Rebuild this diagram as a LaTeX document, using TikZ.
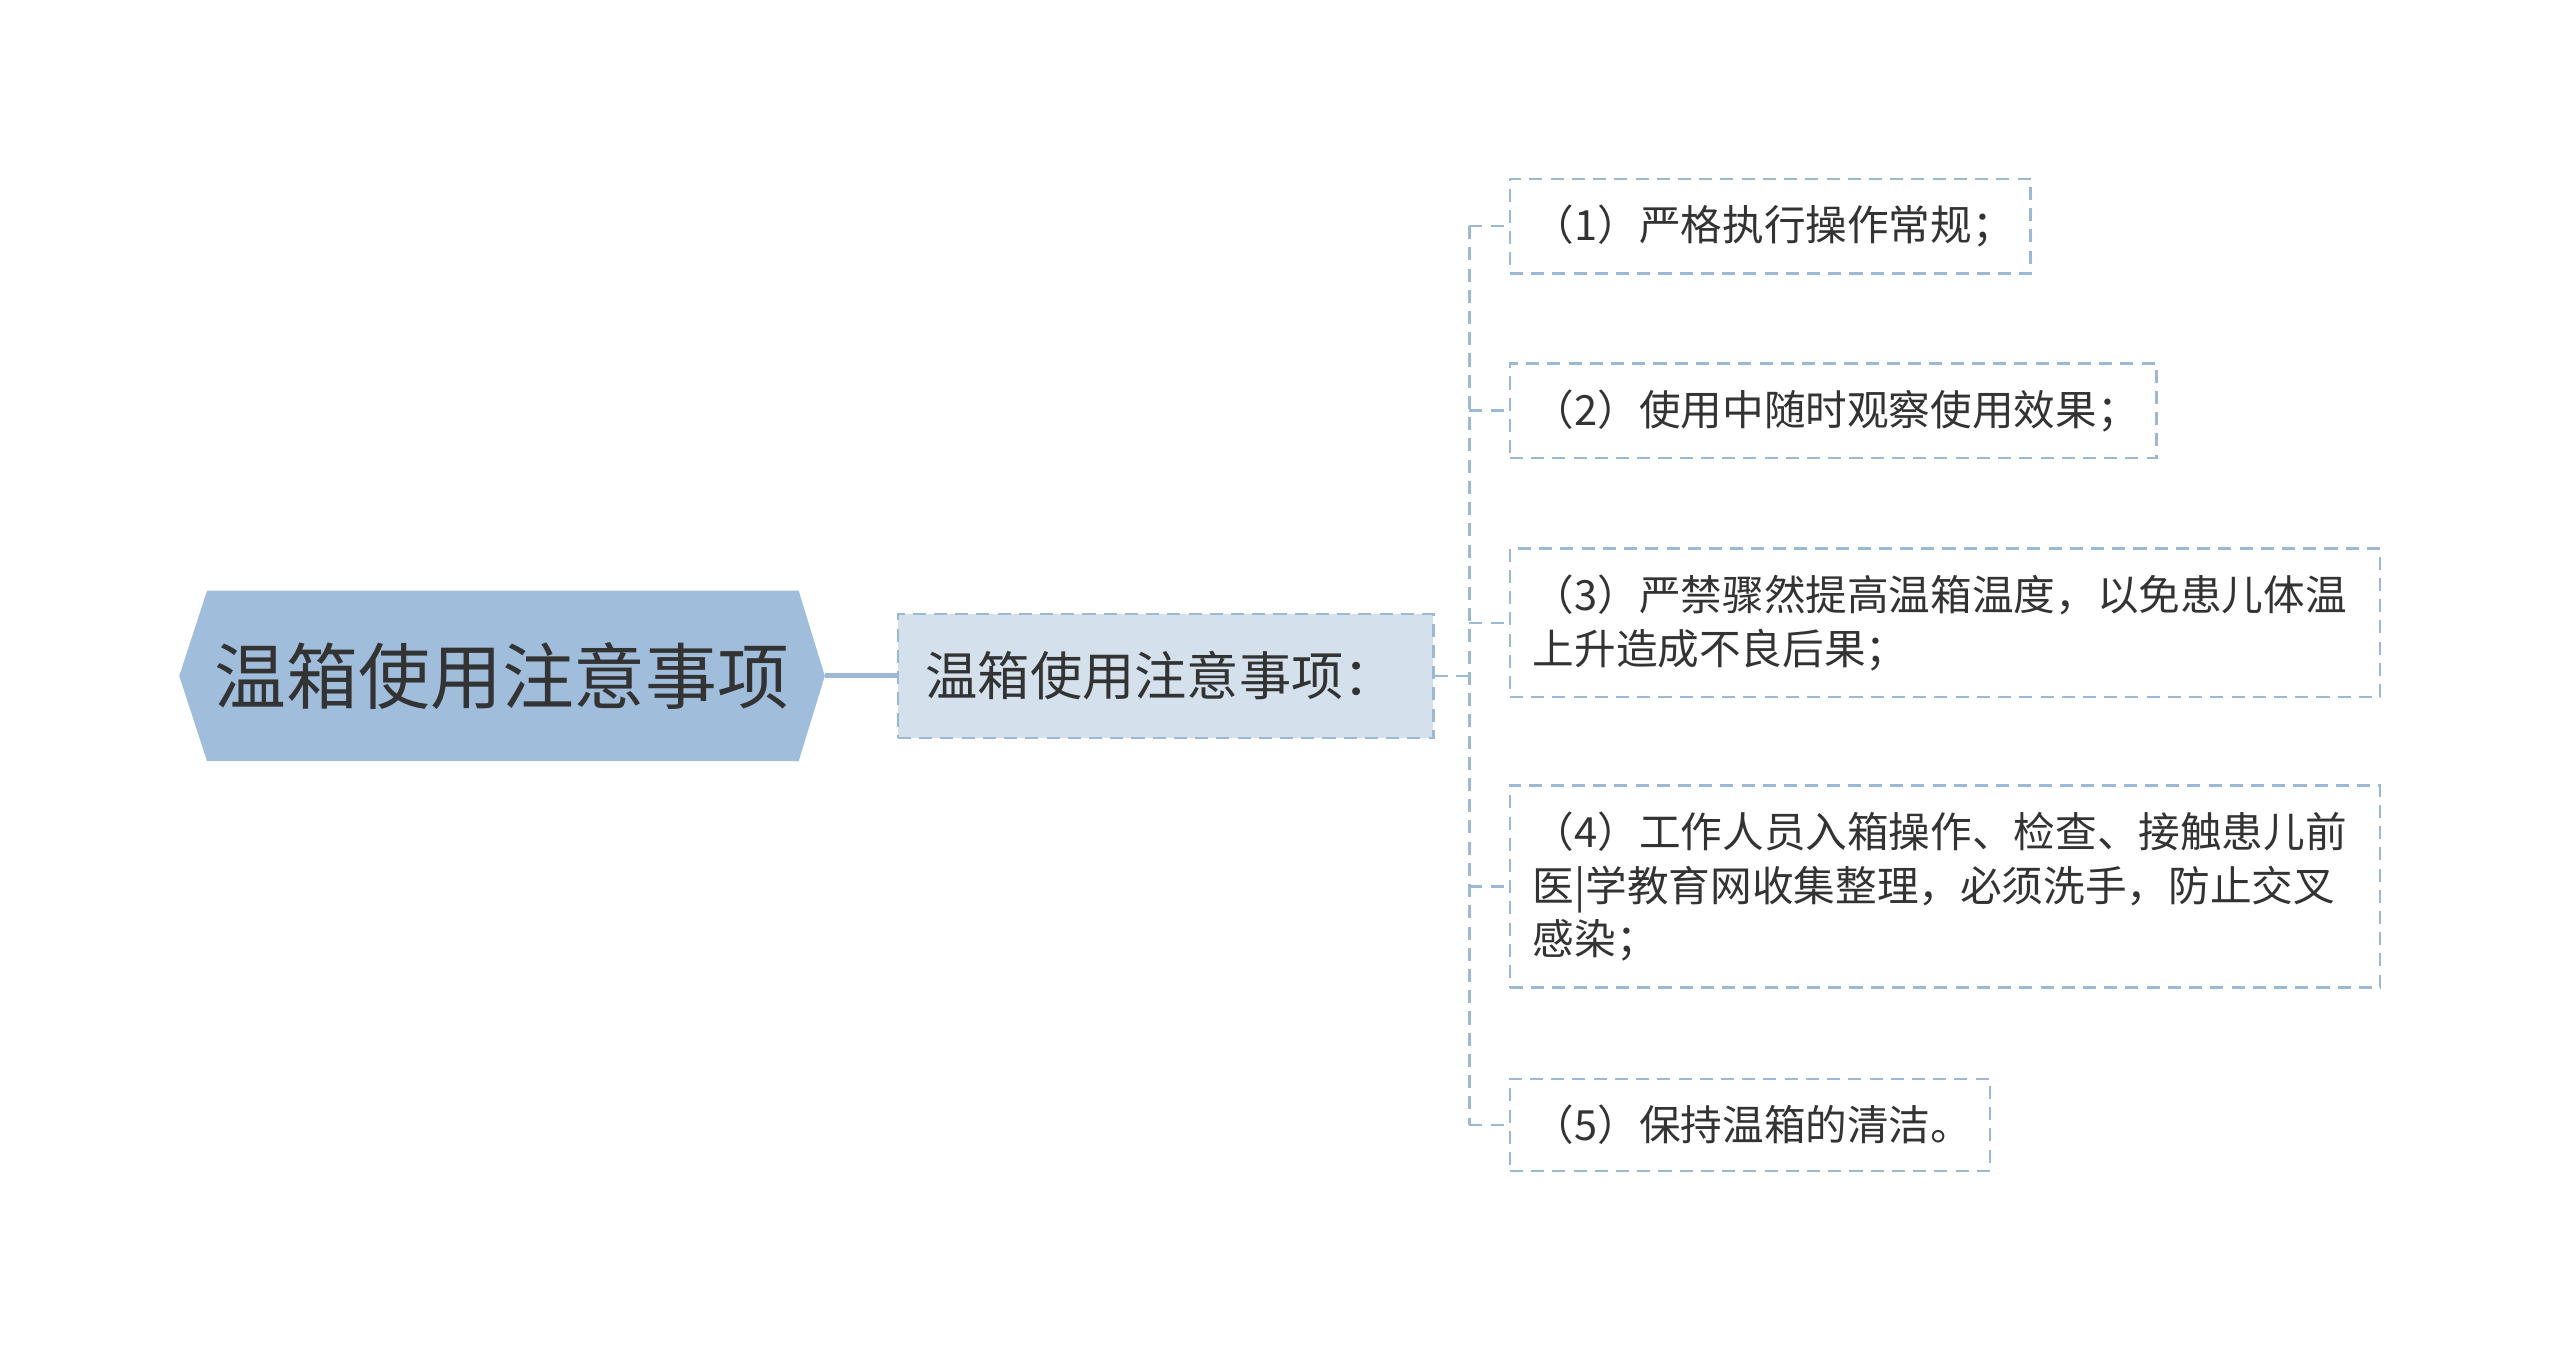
\documentclass[tikz,border=0pt]{standalone}
\usepackage{fontspec}
\setmainfont{Noto Sans CJK SC}
\usetikzlibrary{backgrounds}
\definecolor{rootblue}{HTML}{A0BEDB}
\definecolor{subblue}{HTML}{D4E0EB}
\definecolor{lineblue}{HTML}{9BB8D4}
\definecolor{inkgray}{HTML}{333333}
\tikzset{
  dashpat/.style={line width=1.6pt, dash pattern=on 8pt off 5pt},
  rootbox/.style={minimum width=395pt, minimum height=104pt, inner sep=0pt, text=inkgray, font=\fontsize{44}{52}\selectfont},
  subbox/.style={draw=lineblue, fill=subblue, dashpat, minimum height=76pt, text width=294pt, inner xsep=17pt, inner ysep=0pt, align=left, text=inkgray, font=\fontsize{32}{40}\selectfont},
  leafbox/.style={draw=lineblue, dashpat, inner xsep=14pt, inner ysep=16pt, align=left, anchor=west, text=inkgray, font=\fontsize{25.5}{33}\selectfont},
  trunk/.style={draw=lineblue, line width=3pt},
  branch/.style={draw=lineblue, dashpat},
}
\begin{document}
\begin{tikzpicture}[x=1pt, y=-1pt]
    \useasboundingbox (-2,-1) rectangle (1566,824.6);
    % title and first level
    \node[rootbox] (root) at (305.5,413) {温箱使用注意事项};
    \node[subbox] (sub) at (712,413) {温箱使用注意事项：};

    % the five items
    \node[leafbox, text width=291pt] (item1) at (922,137.5) {（1）严格执行操作常规；};
    \node[leafbox, text width=368pt] (item2) at (922,250.5) {（2）使用中随时观察使用效果；};
    \node[leafbox, text width=505pt] (item3) at (922,380.5) {（3）严禁骤然提高温箱温度，以免患儿体温\\上升造成不良后果；};
    \node[leafbox, text width=505pt] (item4) at (922,542) {（4）工作人员入箱操作、检查、接触患儿前\\医|学教育网收集整理，必须洗手，防止交叉\\感染；};
    \node[leafbox, text width=266pt] (item5) at (922,688) {（5）保持温箱的清洁。};
    \coordinate (fork) at (898,413);

    % hexagon behind the title
    \begin{scope}[on background layer]
        \fill[rootblue] (root.west) -- ([xshift=17pt]root.north west) -- ([xshift=-16pt]root.north east) -- (root.east) -- ([xshift=-16pt]root.south east) -- ([xshift=17pt]root.south west) -- cycle;
    \end{scope}

    % connect nodes
    \draw[trunk] (root.east) -- (sub.west);
    \draw[branch] (sub.east) -- (fork);
    \draw[branch] (fork |- item1.west) -- (fork |- item5.west);
    \foreach \n in {1,...,5}
        \draw[branch] (fork |- item\n.west) -- (item\n.west);
\end{tikzpicture}
\end{document}
